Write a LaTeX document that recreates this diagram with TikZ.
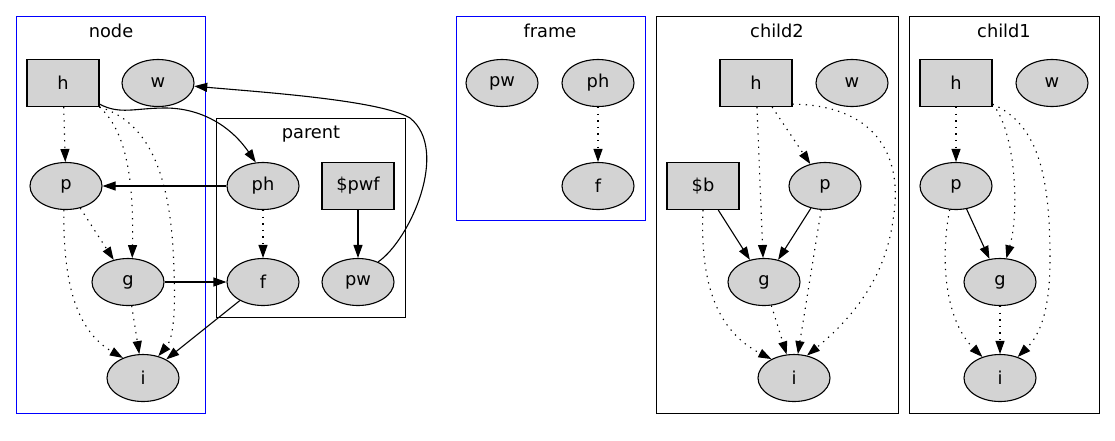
\documentclass[tikz,border=0pt]{standalone}
\usepackage{fontspec}
\setmainfont{DejaVu Sans}
\usetikzlibrary{arrows.meta,shapes.geometric}
\definecolor{gvgray}{HTML}{D3D3D3}
\tikzset{>={Triangle[length=13pt,width=9pt]},
  ell/.style={ellipse, draw, fill=gvgray, minimum width=72pt, minimum height=47pt, inner sep=0pt},
  gbox/.style={rectangle, draw, fill=gvgray, minimum width=72pt, minimum height=47pt, inner sep=0pt},
  dotarr/.style={->, dash pattern=on 1.3pt off 5.3pt},
  solarr/.style={->},
  clu/.style={line width=1pt}}

\begin{document}
\begin{tikzpicture}[x=1pt, y=-1pt, line width=1.1pt, font=\fontsize{17.8}{21}\selectfont]
  \useasboundingbox (0,0) rectangle (1115,440);
  \draw[clu, blue] (16,16) rectangle (205,413);
  \node (lnode) at (111,31) {node};
  \draw[clu] (216,118) rectangle (405,317);
  \node (lparent) at (311,134) {parent};
  \draw[clu, blue] (456,16) rectangle (645,220);
  \node (lframe) at (550,31) {frame};
  \draw[clu] (656,16) rectangle (898,413);
  \node (lchild2) at (777,31) {child2};
  \draw[clu] (909,16) rectangle (1099,413);
  \node (lchild1) at (1004,31) {child1};

  \node[gbox] (nh) at (63,83) {h};
  \node[ell] (nw) at (158,83) {w};
  \node[ell] (np) at (66,186) {p};
  \node[ell] (ng) at (128,282) {g};
  \node[ell] (ni) at (143,378) {i};
  \node[ell] (pph) at (263,186) {ph};
  \node[gbox] (ppwf) at (358,186) {\$pwf};
  \node[ell] (pf) at (263,282) {f};
  \node[ell] (ppw) at (358,282) {pw};

  \node[ell] (fpw) at (502,83) {pw};
  \node[ell] (fph) at (598,83) {ph};
  \node[ell] (ff) at (598,186) {f};

  \node[gbox] (c2h) at (756,83) {h};
  \node[ell] (c2w) at (852,83) {w};
  \node[gbox] (c2b) at (703,186) {\$b};
  \node[ell] (c2p) at (825,186) {p};
  \node[ell] (c2g) at (764,282) {g};
  \node[ell] (c2i) at (794,378) {i};

  \node[gbox] (c1h) at (956,83) {h};
  \node[ell] (c1w) at (1052,83) {w};
  \node[ell] (c1p) at (956,186) {p};
  \node[ell] (c1g) at (1000,282) {g};
  \node[ell] (c1i) at (1000,378) {i};

  \draw[dotarr] (nh) -- (np);
  \draw[dotarr] (nh.south east) .. controls (125,130) and (134,175) .. (ng.80);
  \draw[dotarr] (nh.south east) .. controls (160,125) and (172,200) .. (174,270)
    .. controls (176,320) and (172,340) .. (ni.55);
  \draw[solarr] (nh.330) .. controls (120,115) and (135,108) .. (165,108)
    .. controls (200,108) and (230,125) .. (pph.107);
  \draw[solarr] (pph) -- (np);
  \draw[dotarr] (np) -- (ng);
  \draw[dotarr] (np.265) .. controls (63,280) and (75,330) .. (ni.135);
  \draw[dotarr] (ng) -- (ni);
  \draw[solarr] (ng) -- (pf);
  \draw[solarr] (pf) -- (ni);
  \draw[dotarr] (pph) -- (pf);
  \draw[solarr] (ppwf) -- (ppw);
  \draw[solarr] (ppw.45) .. controls (410,240) and (450,150) .. (410,118)
    .. controls (380,100) and (260,92) .. (nw.355);

  \draw[dotarr] (fph) -- (ff);

  \draw[dotarr] (c2h) -- (c2p);
  \draw[dotarr] (c2h) -- (c2g);
  \draw[dotarr] (c2h.330) .. controls (870,105) and (905,150) .. (893,220)
    .. controls (885,280) and (850,320) .. (c2i.60);
  \draw[solarr] (c2b) -- (c2g);
  \draw[solarr] (c2p) -- (c2g);
  \draw[dotarr] (c2b.south) .. controls (700,280) and (715,330) .. (c2i.140);
  \draw[dotarr] (c2p) -- (c2i);
  \draw[dotarr] (c2g) -- (c2i);

  \draw[dotarr] (c1h) -- (c1p);
  \draw[dotarr] (c1h.330) .. controls (1015,130) and (1020,210) .. (c1g.75);
  \draw[dotarr] (c1h.330) .. controls (1040,125) and (1050,180) .. (1050,260)
    .. controls (1050,310) and (1040,335) .. (c1i.50);
  \draw[solarr] (c1p) -- (c1g);
  \draw[dotarr] (c1p.255) .. controls (940,260) and (945,320) .. (c1i.130);
  \draw[dotarr] (c1g) -- (c1i);
\end{tikzpicture}
\end{document}
